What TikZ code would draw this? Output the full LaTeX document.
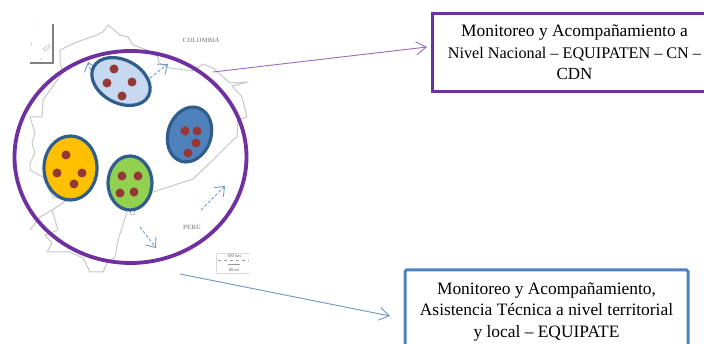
\documentclass[tikz,border=0pt]{standalone}
\usepackage{fontspec}
\setmainfont{Liberation Serif}
\usetikzlibrary{arrows.meta,shapes.geometric}
\definecolor{ringpurple}{HTML}{7030A0}
\definecolor{edgeblue}{HTML}{2F5D8C}
\definecolor{dotred}{HTML}{953735}
\definecolor{linkpurple}{HTML}{9A6BC0}
\definecolor{linkblue}{HTML}{6F97CC}
\definecolor{boxblue}{HTML}{4F81BD}
\definecolor{lightfill}{HTML}{C6D9F1}
\definecolor{orangefill}{HTML}{FFC000}
\definecolor{greenfill}{HTML}{92D050}
\newcommand{\linesize}[1]{\fontsize{#1}{21.3}\selectfont}
\tikzset{
  border/.style={draw=black!22,line width=1pt,line join=round},
  cluster/.style={draw=edgeblue,line width=3.2pt,ellipse,inner sep=0pt},
  reddot/.style={fill=dotred,draw=none},
  move/.style={draw=linkblue,line width=0.9pt,densely dashed,-{Straight Barb[length=8pt,width=13pt,line width=0.9pt]}},
  link/.style={line width=0.9pt,-{Straight Barb[length=10pt,width=13pt,line width=0.9pt]}},
  infobox/.style={draw,line width=3pt,fill=white,align=center,inner sep=0pt,font=\linesize{17.4}},
  maplabel/.style={font=\fontsize{6.5}{7}\selectfont\bfseries,text=black!40,inner sep=0pt},
  scalelabel/.style={font=\fontsize{4.5}{5}\selectfont,text=black!65,inner sep=0pt}
}
\begin{document}
\begin{tikzpicture}[x=1pt,y=-1pt]
\clip (0,0) rectangle (704,344);
\fill[white] (0,0) rectangle (704,344);
% inset
\draw[draw=black!50,line width=1.4pt] (53,24) -- (53,63) -- (30,63);
\draw[border,line width=0.7pt] (43,49) -- (49,45) -- (50,47) -- (45,51) -- cycle;
\draw[border,line width=0.7pt] (31,42) -- (32,46) (40,59) -- (43,59) (35,24) -- (36,24);
% map outline
\draw[border] (63,72) -- (60,62) -- (60,50) -- (77,42) -- (97,35) -- (103,32) -- (108,25) -- (120,35) -- (128,37) -- (133,45) -- (147,50) -- (158,57) -- (159,63) -- (170,68) -- (193,71) -- (203,64) -- (213,68) -- (230,83) -- (248,82) -- (232,86) -- (242,97) -- (247,117) -- (238,120) -- (237,137) -- (233,140) -- (213,160) -- (193,179) -- (150,193);
\draw[border] (63,72) -- (43,100) -- (42,117) -- (30,117) -- (35,133) -- (32,143) -- (35,153) -- (30,163) -- (30,170) -- (43,177) -- (53,197) -- (67,200) -- (52,210) -- (40,217) -- (30,230);
\draw[border] (52,210) -- (58,230) -- (45,235) -- (52,243) -- (47,252) -- (70,252) -- (83,258) -- (90,272) -- (103,272) -- (107,263) -- (115,257) -- (118,240) -- (127,212);
\draw[border] (130,211) rectangle (134,215);
% labels on map
\node[maplabel] (colombia) at (201,40) {COLOMBIA};
\node[maplabel] (peru) at (192,227) {PERU};
% scale
\node[scalelabel] (km) at (234,256) {100 km};
\node[scalelabel] (mi) at (234,270) {60 mi};
\draw[black!15,line width=0.5pt] (217,253) -- (250,253) (217,273) -- (250,273);
\draw[black!40,line width=1pt,dashed] (218,261) -- (249,261);
\draw[black!40,line width=1pt] (228,265) -- (240,265);
\draw[black!15,line width=0.5pt] (216,253) -- (216,273);
% ring
\node[draw=ringpurple,line width=3.8pt,ellipse,minimum width=232pt,minimum height=212pt,inner sep=0pt] (ring) at (130.5,157) {};
% movement arrows
\coordinate (a1s) at (95,84); \coordinate (a1e) at (88,62);
\coordinate (a2s) at (150,78); \coordinate (a2e) at (168,64);
\coordinate (a3s) at (201,210); \coordinate (a3e) at (225,186);
\coordinate (a4s) at (140,227); \coordinate (a4e) at (156,248);
\draw[move] (a1s) -- (a1e);
\draw[move] (a2s) -- (a2e);
\draw[move] (a3s) -- (a3e);
\draw[move] (a4s) -- (a4e);
% clusters
\node[cluster,fill=lightfill,minimum width=62pt,minimum height=43pt,rotate=-28] (c1) at (121,81.5) {};
\node[cluster,fill=boxblue,minimum width=43pt,minimum height=56pt,rotate=-18] (c2) at (189.5,134.5) {};
\node[cluster,fill=orangefill,minimum width=53pt,minimum height=64pt] (c3) at (70.5,168) {};
\node[cluster,fill=greenfill,minimum width=44pt,minimum height=54pt] (c4) at (130,183) {};
\foreach \p in {(114,69),(107,83),(132,82),(122,96),(185,131),(197,131),(196,143),(188,153),(66,155),(57,173),(82,173),(74,184),(122,176),(138,176),(120,193),(134,192)}
  \fill[reddot] \p circle (4.5);
% boxes
\node[infobox,draw=ringpurple,minimum width=285pt,minimum height=78pt] (natbox) at (574.5,52.5) {Monitoreo y Acompañamiento a\\{\linesize{16.2}Nivel Nacional – EQUIPATEN – CN –}\\{\linesize{17}CDN}};
\node[infobox,draw=boxblue,rounded corners=1.5pt,minimum width=283pt,minimum height=84pt] (terbox) at (546.5,312) {Monitoreo y Acompañamiento,\\Asistencia Técnica a nivel territorial\\y local – EQUIPATE};
% links
\coordinate (natstart) at (213,72);
\coordinate (natend) at (427,47);
\coordinate (terstart) at (180,274);
\coordinate (terend) at (390,316);
\draw[link,draw=linkpurple] (natstart) -- (natend);
\draw[link,draw=linkblue] (terstart) -- (terend);
\end{tikzpicture}
\end{document}
